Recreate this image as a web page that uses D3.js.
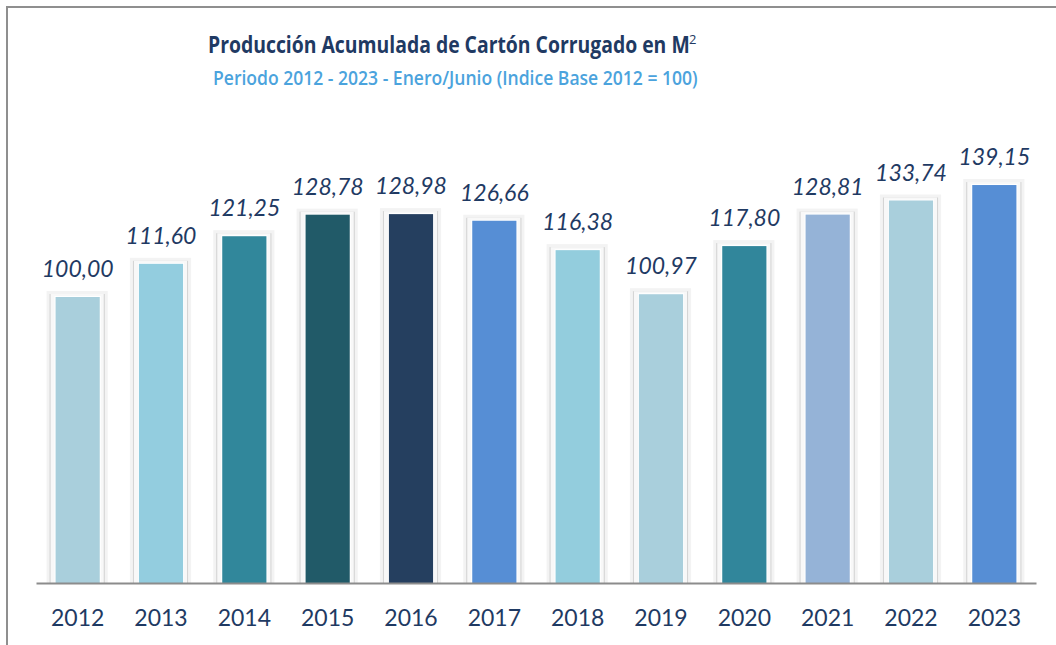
<!DOCTYPE html>
<html>
<head>
<meta charset="utf-8">
<script src="https://cdn.jsdelivr.net/npm/d3@7"></script>
<style>
  body { margin: 0; background: #fff; }
  svg { display: block; }
</style>
</head>
<body>
<div id="chart"></div>
<script>
// Chart data
const years = ["2012", "2013", "2014", "2015", "2016", "2017", "2018", "2019", "2020", "2021", "2022", "2023"];
const values = [100.00, 111.60, 121.25, 128.78, 128.98, 126.66, 116.38, 100.97, 117.80, 128.81, 133.74, 139.15];
const barColors = ["#a9cfdc", "#93cddf", "#31879b", "#215a68", "#253f5f", "#568ed5",
                   "#93cddd", "#a9cfdc", "#31869b", "#95b3d7", "#a9cfdc", "#568ed5"];
const titleText = "Producción Acumulada de Cartón Corrugado en M";
const subtitleText = "Periodo 2012 - 2023 - Enero/Junio (Indice Base 2012 = 100)";

const width = 1056, height = 645;
const margin = { top: 125, right: 20, bottom: 62, left: 36 };

const svg = d3.select("#chart").append("svg")
    .attr("width", width)
    .attr("height", height);

// outer frame (top + left edges visible)
svg.append("line")
    .attr("x1", 6).attr("y1", 7).attr("x2", width).attr("y2", 7)
    .attr("stroke", "#8f8f8f").attr("stroke-width", 2);
svg.append("line")
    .attr("x1", 7).attr("y1", 6).attr("x2", 7).attr("y2", height)
    .attr("stroke", "#8f8f8f").attr("stroke-width", 2);

// squeeze a text horizontally so it spans the given width
function fitText(sel, x0, y0, w) {
    const len = sel.node().getComputedTextLength();
    sel.attr("transform", `translate(${x0},${y0}) scale(${w / len},1)`);
}

// titles
const title = svg.append("text")
    .style("font-family", "'Open Sans', sans-serif")
    .style("font-weight", 700)
    .style("font-size", "24px")
    .style("fill", "#1f3a63")
    .text(titleText);
fitText(title, 208, 53, 482);
// superscript 2 of M²
svg.append("text")
    .attr("x", 689).attr("y", 44)
    .style("font-family", "'Open Sans', sans-serif")
    .style("font-size", "13px")
    .style("fill", "#1f3a63")
    .text("2");

const subtitle = svg.append("text")
    .style("font-family", "'Open Sans', sans-serif")
    .style("font-weight", 600)
    .style("font-size", "20px")
    .style("fill", "#4ba3dd")
    .text(subtitleText);
fitText(subtitle, 213, 85, 485);

// scales
const x = d3.scaleBand()
    .domain(years)
    .range([margin.left, width - margin.right])
    .paddingInner(0.47)
    .paddingOuter(0.235);

const y = d3.scaleLinear()
    .domain([0, 160])
    .range([height - margin.bottom, height - margin.bottom - 160 * 2.86]);

const bw = x.bandwidth();
const bars = svg.append("g").selectAll("g")
    .data(years)
    .join("g");

// soft shadow / bevel around each bar
bars.append("rect")
    .attr("x", d => x(d) - 9)
    .attr("y", (d, i) => y(values[i]) - 6)
    .attr("width", bw + 17)
    .attr("height", (d, i) => y(0) - y(values[i]) + 6)
    .attr("fill", "#f3f3f3");
bars.append("rect")
    .attr("x", d => x(d) - 6)
    .attr("y", (d, i) => y(values[i]) - 3)
    .attr("width", bw + 11)
    .attr("height", (d, i) => y(0) - y(values[i]) + 3)
    .attr("fill", "#d2d2d2");
bars.append("rect")
    .attr("x", d => x(d) - 5)
    .attr("y", (d, i) => y(values[i]) - 3)
    .attr("width", bw + 9)
    .attr("height", (d, i) => y(0) - y(values[i]) + 3)
    .attr("fill", "#f8f8f8");
bars.append("rect")
    .attr("x", d => x(d) - 1)
    .attr("y", (d, i) => y(values[i]) - 1)
    .attr("width", bw + 2)
    .attr("height", (d, i) => y(0) - y(values[i]) + 1)
    .attr("fill", "#ffffff");
bars.append("rect")
    .attr("x", d => x(d))
    .attr("y", (d, i) => y(values[i]))
    .attr("width", bw)
    .attr("height", (d, i) => y(0) - y(values[i]))
    .attr("fill", (d, i) => barColors[i]);

// value labels
svg.append("g").selectAll("text")
    .data(years)
    .join("text")
    .attr("x", d => x(d) + bw / 2)
    .attr("y", (d, i) => y(values[i]) - 20)
    .attr("text-anchor", "middle")
    .style("font-family", "Lato, sans-serif")
    .style("font-style", "italic")
    .style("font-size", "23px")
    .style("fill", "#1f3a63")
    .text((d, i) => values[i].toFixed(2).replace(".", ","));

// x axis
const xAxis = svg.append("g")
    .attr("transform", `translate(0,${y(0)})`)
    .call(d3.axisBottom(x).tickSize(0).tickPadding(27));
xAxis.select(".domain")
    .attr("stroke", "#8c8c8c")
    .attr("stroke-width", 2);
xAxis.selectAll("text")
    .style("font-family", "Lato, sans-serif")
    .style("font-size", "23px")
    .style("fill", "#1f3a63");
</script>
</body>
</html>
